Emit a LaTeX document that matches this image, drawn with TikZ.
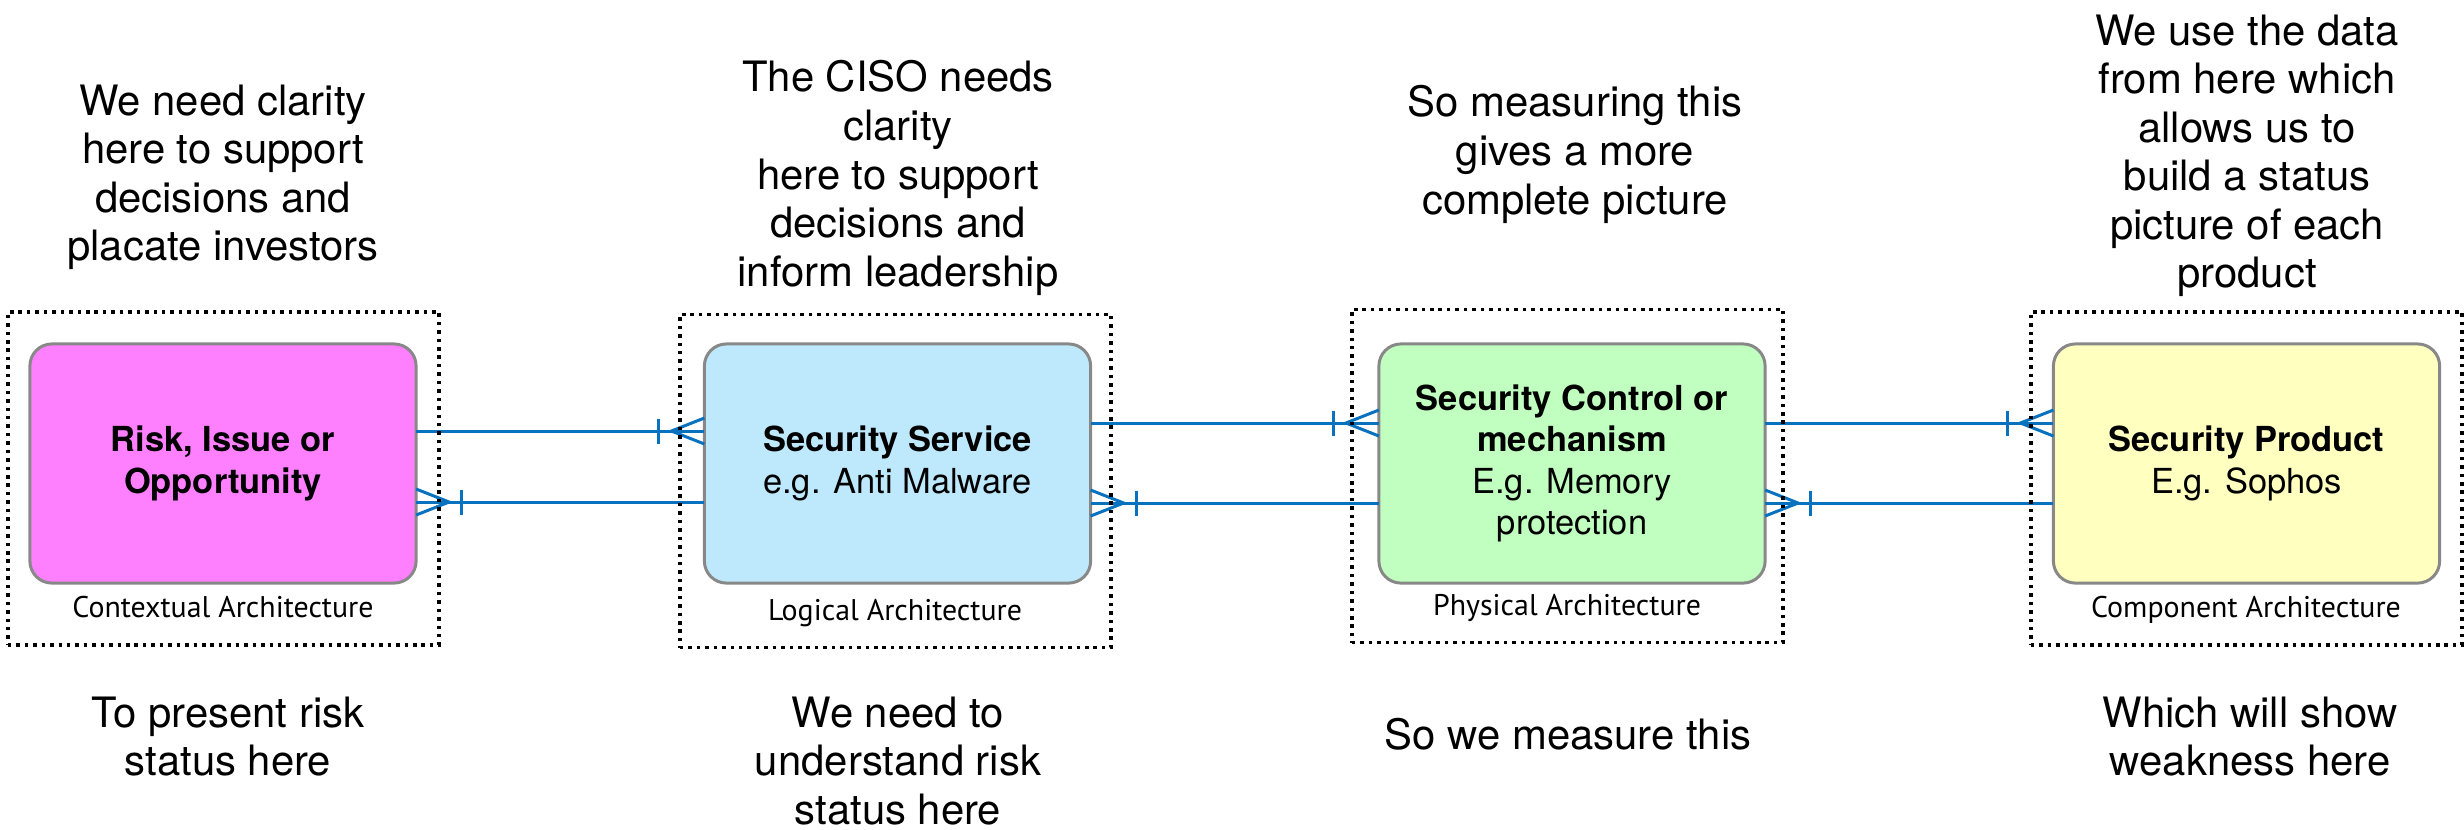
\documentclass[tikz,border=0pt]{standalone}
\usepackage{fontspec}
\setmainfont{TeX Gyre Heros}
\newfontfamily\archfont{PT Sans}
\usetikzlibrary{calc}

\definecolor{pinkfill}{RGB}{255,128,255}
\definecolor{bluefill}{RGB}{190,232,252}
\definecolor{greenfill}{RGB}{192,255,192}
\definecolor{yellowfill}{RGB}{255,255,192}
\definecolor{linkblue}{RGB}{8,114,190}
\definecolor{edgegray}{RGB}{136,136,136}

\tikzset{
  conn/.style={draw=linkblue, line width=0.85pt},
  % crow's foot with a single bar, touching an entity on its right side
  crowleft/.pic={
    \draw[conn] (0,-13) -- (33,0) -- (0,13);
    \draw[conn] (45.5,-12.5) -- (45.5,12.5);
  },
  % crow's foot with a single bar, touching an entity on its left side
  crowright/.pic={
    \draw[conn] (0,-13) -- (-33,0) -- (0,13);
    \draw[conn] (-45.5,-12.5) -- (-45.5,12.5);
  },
}

\begin{document}
\begin{tikzpicture}[x=0.01cm,y=-0.01cm,
  entity/.style={draw=edgegray, line width=0.85pt, rounded corners=0.22cm,
    minimum width=3.86cm, minimum height=2.39cm, inner sep=0pt, outer sep=0pt,
    align=center, font=\fontsize{9.8pt}{11.8pt}\selectfont},
  frame/.style={draw=black, line width=1pt, dash pattern=on 1pt off 1.4pt,
    minimum width=4.31cm, minimum height=3.33cm, inner sep=0pt},
  note/.style={anchor=north, inner sep=0pt, align=center,
    font=\fontsize{11.9pt}{13.8pt}\selectfont},
  archlabel/.style={anchor=base, inner sep=0pt,
    font=\archfont\fontsize{8.5pt}{10pt}\selectfont},
]
\useasboundingbox (0,0) rectangle (2464,829);

% entities
\node[entity, fill=pinkfill]   (pink)   at (223,463.5)  {\textbf{Risk, Issue or}\\\textbf{Opportunity}};
\node[entity, fill=bluefill]   (blue)   at (897.5,463.5) {\textbf{Security Service}\\e.g. Anti Malware};
\node[entity, fill=greenfill]  (green)  at (1572,463.5) {\textbf{Security Control or}\\\textbf{mechanism}\\E.g. Memory\\protection};
\node[entity, fill=yellowfill] (yellow) at (2246.5,463.5) {\textbf{Security Product}\\E.g. Sophos};

% relationships
\draw[conn] ($(pink.east)+(0,-32.5)$) -- ($(blue.west)+(0,-32.5)$);
\pic at ($(blue.west)+(0,-32.5)$) {crowright};
\draw[conn] ($(blue.west)+(0,38.5)$) -- ($(pink.east)+(0,38.5)$);
\pic at ($(pink.east)+(0,38.5)$) {crowleft};

\draw[conn] ($(blue.east)+(0,-40.5)$) -- ($(green.west)+(0,-40.5)$);
\pic at ($(green.west)+(0,-40.5)$) {crowright};
\draw[conn] ($(green.west)+(0,39.5)$) -- ($(blue.east)+(0,39.5)$);
\pic at ($(blue.east)+(0,39.5)$) {crowleft};

\draw[conn] ($(green.east)+(0,-40.5)$) -- ($(yellow.west)+(0,-40.5)$);
\pic at ($(yellow.west)+(0,-40.5)$) {crowright};
\draw[conn] ($(yellow.west)+(0,39.5)$) -- ($(green.east)+(0,39.5)$);
\pic at ($(green.east)+(0,39.5)$) {crowleft};

% architecture layers
\node[frame] (fctx)  at (223.5,478.5)  {};
\node[frame] (flog)  at (895.5,481)    {};
\node[frame] (fphy)  at (1567.5,476)   {};
\node[frame] (fcomp) at (2246.5,478.5) {};

\node[archlabel] (lctx)  at (223,617)  {Contextual Architecture};
\node[archlabel] (llog)  at (895,620)  {Logical Architecture};
\node[archlabel] (lphy)  at (1567,615) {Physical Architecture};
\node[archlabel] (lcomp) at (2246,617) {Component Architecture};

% commentary above
\node[note] (t1) at (223,84)  {We need clarity\\here to support\\decisions and\\placate investors};
\node[note] (t2) at (898,60)  {The CISO needs\\clarity\\here to support\\decisions and\\inform leadership};
\node[note] (t3) at (1575,85) {So measuring this\\gives a more\\complete picture};
\node[note] (t4) at (2247,14) {We use the data\\from here which\\allows us to\\build a status\\picture of each\\product};

% commentary below
\node[note] (b1) at (228,696)  {To present risk\\status here};
\node[note] (b2) at (898,696)  {We need to\\understand risk\\status here};
\node[note] (b3) at (1568,718) {So we measure this};
\node[note] (b4) at (2250,696) {Which will show\\weakness here};
\end{tikzpicture}
\end{document}
